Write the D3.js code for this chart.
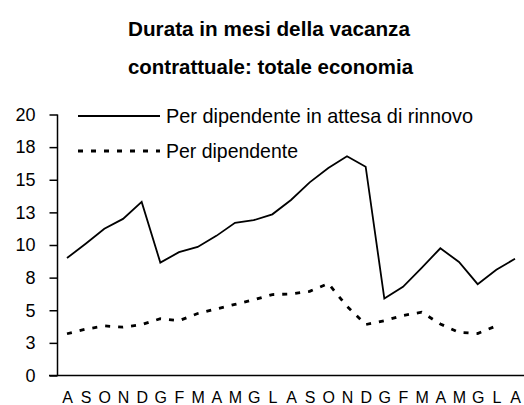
<!DOCTYPE html>
<html><head><meta charset="utf-8">
<script src="https://cdn.jsdelivr.net/npm/d3@7"></script>
<style>
html,body{margin:0;padding:0;background:#fff;}
svg{display:block;}
text{font-family:"Liberation Sans",Arial,sans-serif;fill:#000;}
</style></head>
<body><svg id="c" width="524" height="405"></svg>
<script>
const titleLines = ["Durata in mesi della vacanza", "contrattuale: totale economia"];
const months = ["A","S","O","N","D","G","F","M","A","M","G","L","A","S","O","N","D","G","F","M","A","M","G","L","A"];
const seriesNames = ["Per dipendente in attesa di rinnovo", "Per dipendente"];
const inAttesa = [9.0,10.1,11.25,12.0,13.3,8.65,9.45,9.85,10.7,11.7,11.9,12.35,13.45,14.8,15.9,16.8,16.0,5.9,6.8,8.25,9.75,8.7,7.0,8.1,8.95];
const perDip = [3.2,3.55,3.8,3.7,3.9,4.35,4.2,4.75,5.1,5.45,5.8,6.2,6.25,6.45,7.05,5.3,3.9,4.2,4.6,4.85,3.95,3.3,3.22,3.8];
const yTicks = [0,2.5,5,7.5,10,12.5,15,17.5,20];

const svg = d3.select("#c");
const x = d3.scalePoint().domain(months.map((d,i)=>i)).range([67,515]);
const y = d3.scaleLinear().domain([0,20]).range([375.5,114.5]);

const titleW = [282, 285];
svg.selectAll("text.title").data(titleLines).enter().append("text")
  .attr("class","title").attr("x",(d,i)=>128).attr("y",(d,i)=>36+i*38)
  .attr("textLength",(d,i)=>titleW[i]).attr("lengthAdjust","spacingAndGlyphs")
  .style("font-weight","bold").style("font-size","21px").text(d=>d);

const yAxis = d3.axisLeft(y).tickValues(yTicks).tickSize(8).tickPadding(14).tickFormat(d=>Math.round(d));
const gy = svg.append("g").attr("transform","translate(57.5,0)").call(yAxis);
gy.select(".domain").attr("d","M0,"+y(20)+"V"+y(0)).attr("stroke","#000").attr("stroke-width",1.5);
gy.selectAll(".tick line").attr("stroke","#000").attr("stroke-width",1.5);
gy.selectAll(".tick text").style("font-size","18px").style("font-family",null);

const xAxis = d3.axisBottom(x).tickSize(0).tickPadding(16).tickFormat(i=>months[i]);
const gx = svg.append("g").attr("transform","translate(0,375.5)").call(xAxis);
gx.select(".domain").attr("d","M49,0H524").attr("stroke","#000").attr("stroke-width",1.5);
gx.selectAll(".tick text").style("font-size","16px").style("font-family",null);

const line = d3.line().x((d,i)=>x(i)).y(d=>y(d));
svg.append("path").datum(inAttesa).attr("d",line).attr("fill","none").attr("stroke","#000").attr("stroke-width",1.8).attr("stroke-linejoin","miter");
svg.append("path").datum(perDip).attr("d",line).attr("fill","none").attr("stroke","#000").attr("stroke-width",2.8).attr("stroke-dasharray","5,8");

const leg = svg.append("g");
const legY = [116, 151];
const legW = [307, 132];
leg.selectAll("line").data(seriesNames).enter().append("line")
  .attr("x1",78).attr("x2",160).attr("y1",(d,i)=>legY[i]).attr("y2",(d,i)=>legY[i])
  .attr("stroke","#000").attr("stroke-width",(d,i)=>i?2.8:1.8).attr("stroke-dasharray",(d,i)=>i?"5,8":null);
leg.selectAll("text").data(seriesNames).enter().append("text")
  .attr("x",166).attr("y",(d,i)=>legY[i]+7)
  .attr("textLength",(d,i)=>legW[i]).attr("lengthAdjust","spacingAndGlyphs")
  .style("font-size","21px").text(d=>d);
</script></body></html>
